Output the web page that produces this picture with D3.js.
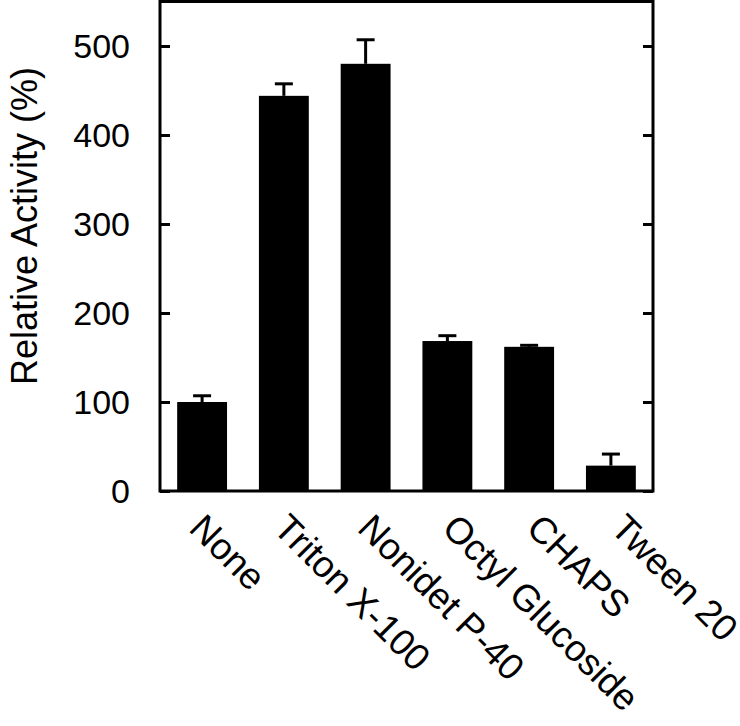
<!DOCTYPE html>
<html lang="en">
<head>
<meta charset="utf-8">
<title>Relative Activity</title>
<script src="https://d3js.org/d3.v7.min.js"></script>
<style>
  body { margin: 0; background: #fff; }
  svg text { font-family: "Liberation Sans", Arial, sans-serif; fill: #000; }
</style>
</head>
<body>
<div id="chart"></div>
<script>
// data
var categories = ["None", "Triton X-100", "Nonidet P-40", "Octyl Glucoside", "CHAPS", "Tween 20"];
var activity   = [100, 444, 480, 168.5, 162, 28.5];
var errors     = [7, 13.5, 27, 6, 1.7, 13];
var yTicks     = [0, 100, 200, 300, 400, 500];

var width = 740, height = 726;
// plot frame edges (note: "top" is a reserved window property, so use other names)
var plotL = 160, plotR = 653, plotT = 1.5, plotB = 491;

var svg = d3.select("#chart").append("svg")
    .attr("width", width)
    .attr("height", height);

var x = d3.scaleBand()
    .domain(categories)
    .range([plotL, plotR])
    .paddingInner(0.39)
    .paddingOuter(0.21);

var y = d3.scaleLinear()
    .domain([0, 550])
    .range([plotB, plotT]);

// bars
svg.selectAll("rect.bar")
    .data(categories)
    .enter().append("rect")
    .attr("class", "bar")
    .attr("x", function(d) { return x(d); })
    .attr("width", x.bandwidth())
    .attr("y", function(d, i) { return y(activity[i]); })
    .attr("height", function(d, i) { return plotB - y(activity[i]); })
    .attr("fill", "#000");

// error bars (upper only, lower half hidden in bar)
var eb = svg.selectAll("g.err")
    .data(categories)
    .enter().append("g")
    .attr("class", "err")
    .attr("stroke", "#000")
    .attr("stroke-width", 3);
eb.append("line")
    .attr("x1", function(d) { return x(d) + x.bandwidth() / 2; })
    .attr("x2", function(d) { return x(d) + x.bandwidth() / 2; })
    .attr("y1", function(d, i) { return y(activity[i]); })
    .attr("y2", function(d, i) { return y(activity[i] + errors[i]); });
eb.append("line")
    .attr("x1", function(d) { return x(d) + x.bandwidth() / 2 - 9; })
    .attr("x2", function(d) { return x(d) + x.bandwidth() / 2 + 9; })
    .attr("y1", function(d, i) { return y(activity[i] + errors[i]); })
    .attr("y2", function(d, i) { return y(activity[i] + errors[i]); });

// frame
svg.append("rect")
    .attr("x", plotL)
    .attr("y", plotT)
    .attr("width", plotR - plotL)
    .attr("height", plotB - plotT)
    .attr("fill", "none")
    .attr("stroke", "#000")
    .attr("stroke-width", 3);

// left axis, ticks pointing inward
var yAxisL = svg.append("g")
    .attr("transform", "translate(" + plotL + ",0)")
    .call(d3.axisRight(y).tickValues(yTicks).tickSize(10).tickFormat(""));
yAxisL.select(".domain").remove();
yAxisL.selectAll("line").attr("stroke-width", 3);

// right axis, ticks pointing inward
var yAxisR = svg.append("g")
    .attr("transform", "translate(" + plotR + ",0)")
    .call(d3.axisLeft(y).tickValues(yTicks).tickSize(10).tickFormat(""));
yAxisR.select(".domain").remove();
yAxisR.selectAll("line").attr("stroke-width", 3);

// tick labels
svg.selectAll("text.ytick")
    .data(yTicks)
    .enter().append("text")
    .attr("class", "ytick")
    .attr("x", 130)
    .attr("y", function(d) { return y(d); })
    .attr("dy", "0.36em")
    .attr("text-anchor", "end")
    .style("font-size", "34px")
    .text(function(d) { return d; });

// y title
svg.append("text")
    .attr("transform", "translate(37,226) rotate(-90)")
    .attr("text-anchor", "middle")
    .style("font-size", "36px")
    .text("Relative Activity (%)");

// category labels, rotated 45 degrees
svg.selectAll("text.cat")
    .data(categories)
    .enter().append("text")
    .attr("class", "cat")
    .attr("transform", function(d, i) {
        var cx = x(d) + x.bandwidth() / 2 + 2.5 * i - 14.5;
        return "translate(" + cx + ",530) rotate(45)";
    })
    .attr("text-anchor", "start")
    .style("font-size", "37px")
    .text(function(d) { return d; });
</script>
</body>
</html>
